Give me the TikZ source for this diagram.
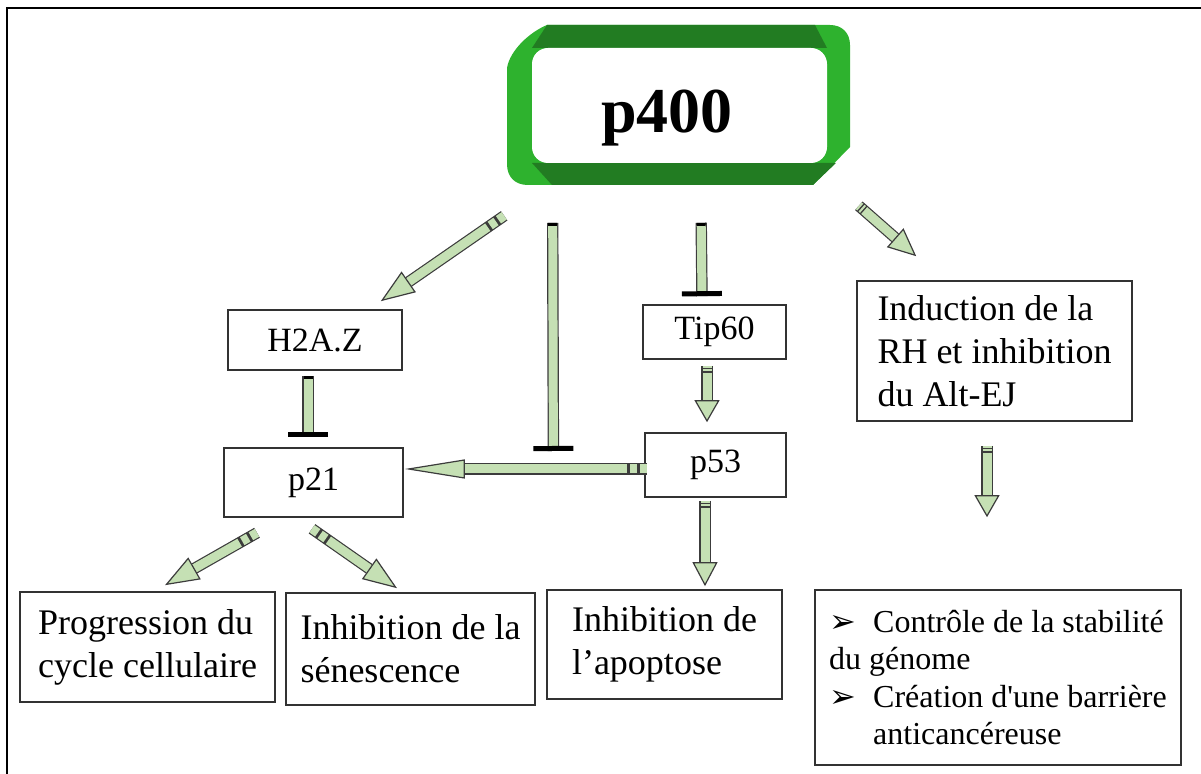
\documentclass[tikz,border=0pt]{standalone}
\usepackage{fontspec}
\setmainfont{Liberation Serif}
\newfontfamily\symfont{DejaVu Sans}
\usepackage{tikz}
\usetikzlibrary{
  arrows.meta,
  calc
}
\definecolor{arrowgreen}{RGB}{197,224,180}
\definecolor{arrowline}{RGB}{60,60,60}
\definecolor{boxline}{RGB}{50,50,50}
\definecolor{ribbonlight}{RGB}{46,178,46}
\definecolor{ribbondark}{RGB}{34,124,34}
\tikzset{
  box/.style={rectangle,draw=boxline,line width=0.8pt,fill=white,inner sep=0pt,align=center},
  lbl/.style={font=\fontsize{17}{20}\selectfont},
  txt/.style={font=\fontsize{18}{21.5}\selectfont,align=left},
  fat/.style={line width=4.5pt,draw=arrowgreen,
    -{Triangle[length=#1,width=12.5pt,line width=0.6pt,fill=arrowgreen,color=arrowline]},
    preaction={draw=arrowline,line width=5.7pt,-,shorten >=#1}},
  fat/.default=11pt,
  fatlong/.style={line width=4.5pt,draw=arrowgreen,
    -{Triangle[length=30pt,width=9.5pt,line width=0.6pt,fill=arrowgreen,color=arrowline]},
    preaction={draw=arrowline,line width=5.7pt,-,shorten >=30pt}},
  inhib/.style={line width=4.5pt,draw=arrowgreen,
    {Bar[width=4.5pt,line width=1.5pt,color=black]}-{Bar[width=20pt,line width=2.5pt,color=black]},
    preaction={draw=arrowline,line width=5.7pt,-}},
  squares/.style={dash pattern=on 3.5pt off 1.5pt on 3.5pt off 1.5pt on 1000pt off 1pt},
  stripes/.style={dash pattern=on 1pt off 0.8pt on 1pt off 0.8pt on 1000pt off 1pt}
}

\begin{document}
\begin{tikzpicture}[x=0.5pt,y=-0.5pt]
    \useasboundingbox (0,0) rectangle (1201,774);
    \draw[line width=1.2pt] (1201,8) -- (7,8) -- (7,774);

    % ruban vert
    \fill[ribbonlight] (547,25) -- (830,25) .. controls (842,25) and (850,33) .. (850,45) -- (850,147) -- (813,185) -- (528,185) .. controls (515,185) and (507,177) .. (507,164) -- (507,68) .. controls (510,50) and (530,32) .. (547,25) -- cycle;
    \fill[ribbondark] (532,48) -- (547,25) -- (815,25) -- (827,48) -- cycle;
    \fill[ribbondark] (532,163) -- (552,185) -- (813,185) -- (836,163) -- cycle;

    \node[box,draw=none,rounded corners=8pt,minimum width=147.5pt,minimum height=57.5pt,text height=27.5pt,text depth=0pt,font=\fontsize{32}{36}\selectfont\bfseries] (p400) at (679.5,105.5) {p400\hspace*{12.5pt}};
    \node[box,lbl,minimum width=87pt,minimum height=30pt] (h2az) at (315,340) {H2A.Z};
    \node[box,lbl,minimum width=71.5pt,minimum height=27pt] (tip60) at (714.5,332) {Tip60};
    \node[box,lbl,minimum width=70.5pt,minimum height=32pt] (p53) at (715.5,465) {p53};
    \node[box,lbl,minimum width=89.5pt,minimum height=34.5pt] (p21) at (313.5,482.5) {p21};
    \node[box,txt,minimum width=137.5pt,minimum height=70pt] (rh) at (994.5,351) {Induction de la\\RH et inhibition\\du Alt-EJ};
    \node[box,txt,minimum width=127.5pt,minimum height=55pt] (prog) at (147.5,647) {Progression du\\cycle cellulaire};
    \node[box,txt,minimum width=124.5pt,minimum height=56pt] (senes) at (410.5,649) {Inhibition de la\\sénescence};
    \node[box,txt,minimum width=117.5pt,minimum height=54.5pt] (apop) at (664.5,644.5) {Inhibition de\\l’apoptose};
    \node[box,minimum width=183pt,minimum height=87.5pt,align=left,font=\fontsize{16}{18.7}\selectfont] (ctrl) at (998,677.5)
      {\makebox[22pt][l]{\symfont ➢}Contrôle de la stabilité\\du génome\\\makebox[22pt][l]{\symfont ➢}Création d\textquotesingle une barrière\\\hspace*{22pt}anticancéreuse};

    \draw[fat=17pt,squares] ($(p400.south west)+(-27,52)$) -- ($(h2az.north east)+(-22,-8)$);
    \draw[fat=14pt,stripes] ($(p400.south east)+(31,42)$) -- ($(rh.north west)+(60,-24)$);
    \draw[inhib] ($(p400.south west)+(170,59)$) -- ($(tip60.north)+(-12.5,-8)$);
    \draw[inhib] ($(h2az.south)+(-7,5)$) -- ($(p21.north)+(-5.5,-10)$);
    \draw[fat,stripes] ($(tip60.south)+(-7.5,6)$) -- ($(p53.north)+(-8.5,-10)$);
    \draw[fatlong,squares] ($(p53.west)+(3,4)$) -- coordinate[pos=0.387] (p53p21) ($(p21.east)+(1,-13.5)$);
    \draw[inhib] ($(p400.south west)+(21.5,59)$) -- ($(p53p21)+(0,-18)$);
    \draw[fat=17pt,squares] ($(p21.south)+(-56.5,15)$) -- ($(prog.north)+(17.5,-6)$);
    \draw[fat=17pt,squares] ($(p21.south)+(-1.5,11)$) -- ($(senes.north)+(-13.5,-4)$);
    \draw[fat=12pt,stripes] ($(p53.south)+(-10.5,3)$) -- ($(apop.north)+(40.5,-3)$);
    \draw[fat,stripes] ($(rh.south)+(-7.5,24)$) -- ($(ctrl.north)+(-11,-72)$);
\end{tikzpicture}
\end{document}
